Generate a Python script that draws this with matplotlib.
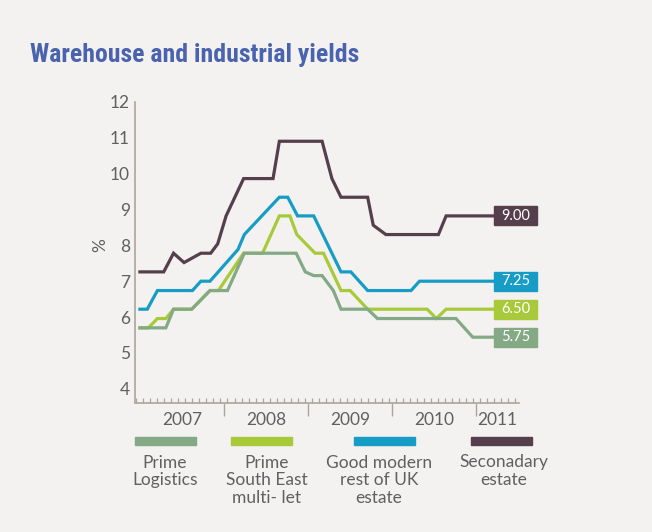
import matplotlib
matplotlib.use('Agg')
import matplotlib.pyplot as plt
from matplotlib.patches import Rectangle
import numpy as np

#Data: months since Jan 2007, yields in %
months_logistics = [0, 3.7, 4.8, 7.4, 10.0, 12.5, 14.9, 22.3, 23.6, 24.8, 26.0, 27.6, 28.7, 32.5, 33.9, 45.1, 47.5, 50.6]
logistics = [6.0, 6.0, 6.5, 6.5, 7.0, 7.0, 8.0, 8.0, 7.5, 7.4, 7.4, 7.0, 6.5, 6.5, 6.25, 6.25, 5.75, 5.75]

months_semulti = [0, 1.2, 2.5, 3.7, 4.8, 7.4, 10.0, 11.2, 14.8, 17.5, 19.9, 21.4, 22.4, 25.0, 26.2, 28.7, 30.0, 32.5, 41.0, 42.3, 43.7, 50.6]
semulti = [6.0, 6.0, 6.25, 6.25, 6.5, 6.5, 7.0, 7.0, 8.0, 8.0, 9.0, 9.0, 8.5, 8.0, 8.0, 7.0, 7.0, 6.5, 6.5, 6.25, 6.5, 6.5]

months_goodmodern = [0, 1.05, 2.5, 7.5, 8.7, 10.0, 14.0, 14.9, 19.9, 21.1, 22.5, 24.8, 28.7, 30.1, 32.5, 38.7, 39.9, 50.6]
goodmodern = [6.5, 6.5, 7.0, 7.0, 7.25, 7.25, 8.1, 8.5, 9.5, 9.5, 9.0, 9.0, 7.5, 7.5, 7.0, 7.0, 7.25, 7.25]

months_secondary = [0, 3.4, 4.8, 6.3, 8.7, 10.1, 11.1, 12.3, 14.8, 19.0, 19.9, 26.0, 27.4, 28.7, 32.5, 33.3, 35.1, 42.6, 43.7, 50.6]
secondary = [7.5, 7.5, 8.0, 7.75, 8.0, 8.0, 8.25, 9.0, 10.0, 10.0, 11.0, 11.0, 10.0, 9.5, 9.5, 8.75, 8.5, 8.5, 9.0, 9.0]

series_names = ['Prime\nLogistics', 'Prime\nSouth East\nmulti- let',
                'Good modern\nrest of UK\nestate', 'Seconadary\nestate']
series_colors = ['#83A985', '#A8C93A', '#179DC5', '#563F4C']

years = ['2007', '2008', '2009', '2010', '2011']
year_starts = [0, 12, 24, 36, 48]
yticks = [4, 5, 6, 7, 8, 9, 10, 11, 12]

#Layout helpers (pixels -> figure fraction)
W, H = 652, 532
def fx(px):
    return px / W
def fy(py):
    return 1 - py / H

txt_color = '#606062'
axis_color = '#ADA59B'
plt.rcParams['font.family'] = ['Lato', 'DejaVu Sans']

fig = plt.figure(figsize=(6.52, 5.32), dpi=100, facecolor='#F3F2F0')
ax = fig.add_axes([fx(135), fy(402.5), fx(519) - fx(135), (402.5 - 101.7) / H])
ax.set_facecolor('none')

xmin, xmax = -0.7, 54.1
ax.set_xlim(xmin, xmax)
ax.set_ylim(4, 12.06)

# secondary drawn first, logistics on top
all_x = [months_logistics, months_semulti, months_goodmodern, months_secondary]
all_y = [logistics, semulti, goodmodern, secondary]
for xs, ys, c, z in zip(all_x, all_y, series_colors, [4, 3, 2, 1]):
    ax.plot(xs, ys, color=c, lw=2.3, zorder=z, solid_joinstyle='miter')

#End value boxes
box_h = 0.51
for xs, ys, c in zip(all_x, all_y, series_colors):
    x0 = xs[-1]
    ax.add_patch(Rectangle((x0, ys[-1] - box_h / 2), 6.1, box_h, color=c,
                           clip_on=False, zorder=5))
    ax.text(x0 + 3.05, ys[-1], '%.2f' % ys[-1], color='white', fontsize=10.5,
            ha='center', va='center', zorder=6, clip_on=False)

#Spines
for s in ['top', 'right']:
    ax.spines[s].set_visible(False)
for s in ['left', 'bottom']:
    ax.spines[s].set_color(axis_color)
    ax.spines[s].set_linewidth(1.2)

ax.set_yticks([])
ax.set_xticks(year_starts[1:])
ax.set_xticklabels([])
ax.set_xticks(np.arange(-0.5, 54, 1), minor=True)
ax.tick_params(axis='x', which='major', direction='out', length=9, width=1.0, color=axis_color)
ax.tick_params(axis='x', which='minor', direction='in', length=3.6, width=0.9, color=axis_color)

for yr, st in zip(years, year_starts):
    lo = max(st, xmin)
    hi = min(st + 12, xmax)
    ax.text((lo + hi) / 2, -0.058, yr, transform=ax.get_xaxis_transform(),
            ha='center', va='center', fontsize=12.5, color=txt_color)

#y tick labels sit on their own scale in the original
ax2 = ax.twinx()
ax2.set_ylim(3.62, 11.93)
ax2.set_yticks(yticks)
ax2.yaxis.tick_left()
ax2.tick_params(axis='y', length=0, pad=3.6, labelsize=12.5, labelcolor=txt_color)
for s in ax2.spines.values():
    s.set_visible(False)

fig.text(fx(100), fy(245), '%', rotation=90, ha='center', va='center',
         fontsize=12.5, color=txt_color)

fig.text(fx(30), fy(62), 'Warehouse and industrial yields', color='#4A63AE',
         fontsize=18.5, fontweight='bold', family=['Roboto Condensed', 'DejaVu Sans'],
         va='baseline')

#Legend
swatch_left = [135, 231, 354, 471]
text_centers = [165, 267, 379, 504]
for name, c, sx, tc in zip(series_names, series_colors, swatch_left, text_centers):
    fig.add_artist(Rectangle((fx(sx), fy(445)), fx(61), 8 / H, color=c,
                             transform=fig.transFigure))
    fig.text(fx(tc), fy(454.5), name, ha='center', va='top', fontsize=12.5,
             color=txt_color, linespacing=1.12)

fig.savefig('out.png', dpi=100, facecolor=fig.get_facecolor())
